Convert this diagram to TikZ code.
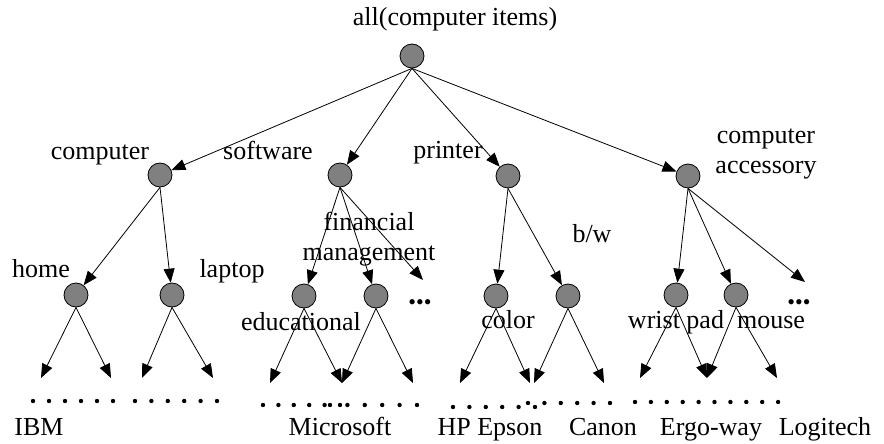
\documentclass[tikz,border=0pt]{standalone}
\usepackage{fontspec}
\setmainfont{Liberation Serif}
\usetikzlibrary{arrows.meta}
\definecolor{vgray}{RGB}{128,128,128}

\begin{document}
\begin{tikzpicture}[
  x=1pt, y=-1pt,
  font=\fontsize{26}{30}\selectfont,
  >={Triangle[length=14pt, width=11pt]},
  vert/.style={circle, draw=black, line width=0.8pt, fill=vgray,
               minimum size=24pt, inner sep=0pt},
  lab/.style={anchor=base, inner sep=0pt, align=center},
  more/.style={anchor=base, inner sep=0pt, font=\fontsize{22}{24}\selectfont},
  link/.style={->, line width=0.8pt}
]
\useasboundingbox (0,0) rectangle (884,444);

% ---- Root ----
\node[vert] (root) at (412,56) {};
\node[lab] (rootlab) at (455,26) {all(computer items)};

% ---- First level ----
\node[vert] (comp) at (160,175) {};
\node[vert] (soft) at (340,175) {};
\node[vert] (prnt) at (508,176) {};
\node[vert] (accs) at (688,176) {};

\node[lab] (complab) at (100,159) {computer};
\node[lab] (softlab) at (268,159) {software};
\node[lab] (prntlab) at (448,158) {printer};
\node[lab] (accslab) at (766,173) {computer\\accessory};

\draw[link] (root.south) -- (comp);
\draw[link] (root.south) -- (soft);
\draw[link] (root.south) -- (prnt);
\draw[link] (root.south) -- (accs);

% ---- Second level ----
\node[vert] (home) at (76,295) {};
\node[vert] (lapt) at (172,295) {};
\node[vert] (educ) at (304,296) {};
\node[vert] (finm) at (376,296) {};
\node[more] (softmore) at (420,309) {•••};
\coordinate (softend) at (423,280);
\node[vert] (colr) at (496,296) {};
\node[vert] (bw) at (568,296) {};
\node[vert] (wrst) at (676,295) {};
\node[vert] (mous) at (736,295) {};
\node[more] (accsmore) at (799,309) {•••};
\coordinate (accsend) at (805,282);

\node[lab] (homelab) at (41,277) {home};
\node[lab] (laptlab) at (232,277) {laptop};
\node[lab] (educlab) at (301,330) {educational};
\node[lab] (finmlab) at (369,260) {financial\\management};
\node[lab] (colrlab) at (508,328) {color};
\node[lab] (bwlab) at (592,242) {b/w};
\node[lab] (wrstlab) at (676,328) {wrist pad};
\node[lab] (mouslab) at (771,328) {mouse};

\draw[link] (comp.south) -- (home);
\draw[link] (comp.south) -- (lapt);
\draw[link] (soft.south) -- (educ);
\draw[link] (soft.south) -- (finm);
\draw[link] (soft.south) -- (softend);
\draw[link] (prnt.south) -- (colr);
\draw[link] (prnt.south) -- (bw);
\draw[link] (accs.south) -- (wrst);
\draw[link] (accs.south) -- (mous);
\draw[link] (accs.south) -- (accsend);

% ---- Leaves ----
\coordinate (lf1) at (41,378);
\coordinate (lf2) at (111,378);
\coordinate (lf3) at (142,378);
\coordinate (lf4) at (213,378);
\coordinate (lf5) at (270,383);
\coordinate (lf6) at (342,383);
\coordinate (lf7) at (413,383);
\coordinate (lf8) at (460,383);
\coordinate (lf9) at (530,383);
\coordinate (lf10) at (534,383);
\coordinate (lf11) at (604,383);
\coordinate (lf12) at (640,378);
\coordinate (lf13) at (707,378);
\coordinate (lf14) at (777,378);

\draw[link] (home.south) -- (lf1);
\draw[link] (home.south) -- (lf2);
\draw[link] (lapt.south) -- (lf3);
\draw[link] (lapt.south) -- (lf4);
\draw[link] (educ.south) -- (lf5);
\draw[link] (educ.south) -- (lf6);
\draw[link] (finm.south) -- (lf6);
\draw[link] (finm.south) -- (lf7);
\draw[link] (colr.south) -- (lf8);
\draw[link] (colr.south) -- (lf9);
\draw[link] (bw.south) -- (lf10);
\draw[link] (bw.south) -- (lf11);
\draw[link] (wrst.south) -- (lf12);
\draw[link] (wrst.south) -- (lf13);
\draw[link] (mous.south) -- (lf13);
\draw[link] (mous.south) -- (lf14);

% dotted rows of instances
\foreach \i in {0,...,5} {
  \fill (33+16*\i,401) circle (2.2pt);
  \fill (135+16.4*\i,401) circle (2.2pt);
  \fill (263+15.4*\i,405) circle (2.2pt);
  \fill (330+17.4*\i,405) circle (2.2pt);
  \fill (453+16.4*\i,407) circle (2.2pt);
  \fill (528+16.4*\i,403) circle (2.2pt);
}
\foreach \i in {0,...,9}
  \fill (635+15.9*\i,402) circle (2.2pt);

% ---- Brand names ----
\node[lab] (ibm) at (39,435) {IBM};
\node[lab] (msft) at (340,435) {Microsoft};
\node[lab] (hpep) at (490,435) {HP Epson};
\node[lab] (cann) at (603,435) {Canon};
\node[lab] (ergo) at (711,435) {Ergo-way};
\node[lab] (logi) at (825,435) {Logitech};

\end{tikzpicture}
\end{document}
